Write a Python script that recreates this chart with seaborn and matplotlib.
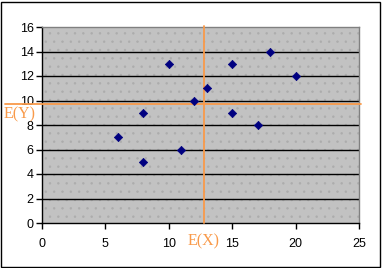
import matplotlib
matplotlib.use("Agg")
import matplotlib.pyplot as plt
import seaborn as sns
import numpy as np
import pandas as pd
from matplotlib.patches import Rectangle

x_vals = [6, 8, 8, 10, 11, 12, 13, 15, 15, 17, 18, 20]
y_vals = [7, 9, 5, 13, 6, 10, 11, 13, 9, 8, 14, 12]
x_ticks = [0, 5, 10, 15, 20, 25]
y_ticks = [0, 2, 4, 6, 8, 10, 12, 14, 16]

df = pd.DataFrame({"x": x_vals, "y": y_vals})
mx = np.mean(x_vals)
my = np.mean(y_vals)

sns.set_style("white")
plt.rcParams['font.family'] = ['Liberation Sans', 'DejaVu Sans']
plt.rcParams['hatch.color'] = '#acacac'
plt.rcParams['hatch.linewidth'] = 0.5

W, H = 382, 268
fig = plt.figure(figsize=(W/100, H/100), dpi=100)
fig.patch.set_facecolor('white')
fig.add_artist(Rectangle((1/W, 1/H), 1-3/W, 1-3/H, transform=fig.transFigure,
                         fill=False, edgecolor='black', linewidth=1.0))

L, R, T, B = 42, 359, 27, 223
ax = fig.add_axes([L/W, 1-B/H, (R-L)/W, (B-T)/H])
ax.set_facecolor('#c2c2c2')
ax.add_patch(Rectangle((0, 0), 1, 1, transform=ax.transAxes, facecolor='none',
                       edgecolor='#acacac', hatch='..', linewidth=0, zorder=0))

for yt in y_ticks[1:-1]:
    ax.axhline(yt, color='black', linewidth=1.0, zorder=1)

sns.scatterplot(data=df, x="x", y="y", marker='D', s=18, color='#000080',
                edgecolor='#000080', linewidth=0.5, ax=ax, zorder=4, legend=False)

orange = '#f99a4a'
ax.axhline(my, xmin=(5-L)/(R-L), xmax=(361-L)/(R-L), color=orange, linewidth=1.3,
           clip_on=False, zorder=3)
ax.axvline(mx, ymin=0, ymax=(B-26)/(B-T), color=orange, linewidth=1.3,
           clip_on=False, zorder=3)

ax.set_xlim(0, 25)
ax.set_ylim(0, 16)
ax.set_xticks(x_ticks)
ax.set_yticks(y_ticks)
ax.set_xlabel('')
ax.set_ylabel('')
ax.tick_params(axis='both', which='major', direction='out', length=4, width=1,
               color='black', labelsize=9, labelcolor='black', pad=2)
ax.tick_params(axis='x', pad=7)
ax.tick_params(bottom=True, left=True)

for s in ['top', 'right']:
    ax.spines[s].set_color('#808080')
    ax.spines[s].set_linewidth(1.0)
for s in ['left', 'bottom']:
    ax.spines[s].set_color('black')
    ax.spines[s].set_linewidth(1.0)

fig.text(20/W, 1-114/H, 'E(Y)', color=orange, fontsize=11.5,
         family=['Liberation Serif', 'DejaVu Serif'], ha='center', va='center')
fig.text(204/W, 1-241/H, 'E(X)', color=orange, fontsize=11.5,
         family=['Liberation Serif', 'DejaVu Serif'], ha='center', va='center')

fig.savefig('out.png', dpi=100)
